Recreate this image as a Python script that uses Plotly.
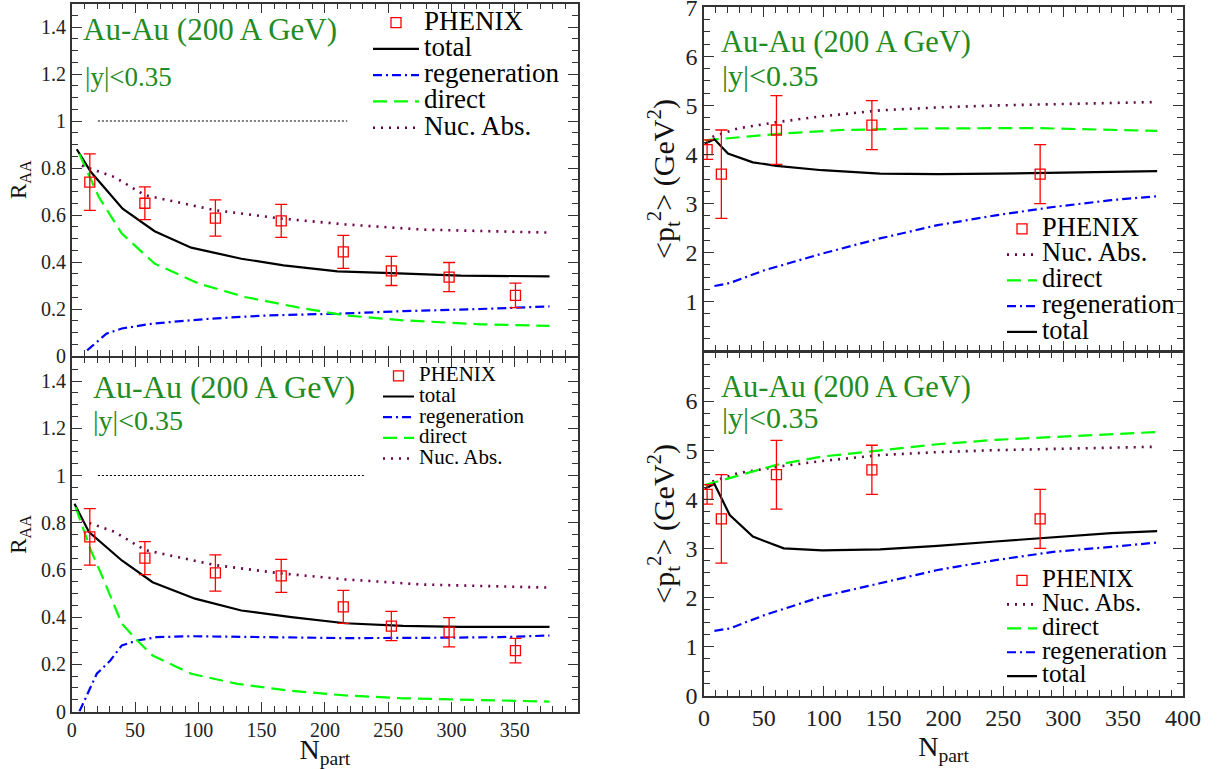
import plotly.graph_objects as go

# ---------------- data ----------------
# PHENIX R_AA vs N_part (both left panels)
phenix_raa_npart = [14.3, 57.8, 113.5, 165.5, 214.5, 252.5, 298.1, 350.5]
phenix_raa = [0.74, 0.65, 0.587, 0.575, 0.443, 0.362, 0.336, 0.258]
phenix_raa_err = [0.12, 0.07, 0.077, 0.07, 0.07, 0.062, 0.062, 0.052]

# PHENIX <pt^2> vs N_part (both right panels)
phenix_pt2_npart = [2.6, 14.5, 60.5, 140.2, 280.7]
phenix_pt2 = [4.1, 3.6, 4.5, 4.6, 3.6]
phenix_pt2_err = [0.2, 0.9, 0.7, 0.5, 0.6]

# top-left R_AA curves
tl_total_x = [4, 15.2, 40.2, 65.5, 94.4, 134, 167.4, 210, 252.6, 307.4, 377.4]
tl_total_y = [0.88, 0.783, 0.627, 0.531, 0.461, 0.414, 0.386, 0.36, 0.353, 0.342, 0.339]
tl_regen_x = [12.2, 27.4, 39.6, 63.9, 109.5, 155.2, 210, 261.7, 322.6, 377.4]
tl_regen_y = [0.024, 0.095, 0.117, 0.138, 0.159, 0.173, 0.18, 0.191, 0.2, 0.211]
tl_direct_x = [6, 21.4, 39.6, 65.5, 100.4, 136.9, 179.6, 216, 261.7, 322.6, 377.4]
tl_direct_y = [0.86, 0.677, 0.521, 0.393, 0.308, 0.251, 0.206, 0.173, 0.152, 0.135, 0.128]
raa_nuc_x = [8, 33.5, 57.9, 113.5, 165.6, 216, 276.9, 377.4]
raa_nuc_y = [0.81, 0.762, 0.684, 0.62, 0.585, 0.56, 0.538, 0.525]
tl_ref_x = [20.7, 217.6]
bl_ref_x = [20.7, 231.3]
ref_y = [1.0, 1.0]

# bottom-left R_AA curves
bl_total_x = [2.2, 13.7, 39.6, 63.9, 97.4, 134, 173.5, 216, 261.7, 307.4, 377.4]
bl_total_y = [0.88, 0.76, 0.64, 0.548, 0.478, 0.428, 0.4, 0.374, 0.363, 0.359, 0.359]
bl_regen_x = [6.1, 19.8, 30.5, 39.6, 51.8, 67, 94.4, 155.2, 216, 276.9, 337.8, 377.4]
bl_regen_y = [0.0, 0.16, 0.216, 0.28, 0.301, 0.315, 0.319, 0.315, 0.311, 0.312, 0.315, 0.322]
bl_direct_x = [3.1, 15.2, 24.4, 39.6, 51.8, 63.9, 94.4, 130.9, 170.4, 216, 261.7, 322.6, 377.4]
bl_direct_y = [0.866, 0.682, 0.569, 0.372, 0.301, 0.237, 0.16, 0.117, 0.089, 0.068, 0.056, 0.047, 0.042]

# top-right <pt^2> curves
tr_total_x = [0.6, 8.7, 20, 40.8, 60.5, 98.7, 147, 195, 243.4, 307.7, 378.4]
tr_total_y = [4.22, 4.31, 4.02, 3.84, 3.77, 3.68, 3.61, 3.6, 3.61, 3.64, 3.66]
pt2_nuc_x = [7, 28, 60.5, 98.7, 147, 195, 243.4, 307.7, 378.4]
pt2_nuc_y = [4.36, 4.53, 4.66, 4.78, 4.9, 4.96, 5.0, 5.04, 5.07]
tr_direct_x = [0.6, 28, 66.6, 114.8, 179, 275.6, 339.9, 378.4]
tr_direct_y = [4.29, 4.35, 4.43, 4.5, 4.53, 4.54, 4.51, 4.48]
tr_regen_x = [8.7, 21.5, 50.4, 98.7, 147, 195, 243.4, 291.6, 339.9, 378.4]
tr_regen_y = [1.32, 1.38, 1.64, 1.98, 2.29, 2.56, 2.76, 2.93, 3.07, 3.15]

# bottom-right <pt^2> curves
br_total_x = [0.6, 8.7, 21.5, 40.8, 66.6, 98.7, 147, 195, 243.4, 291.6, 339.9, 378.4]
br_total_y = [4.22, 4.31, 3.68, 3.24, 3.0, 2.96, 2.98, 3.05, 3.14, 3.23, 3.31, 3.35]
br_direct_x = [0.6, 28, 60.5, 98.7, 147, 195, 243.4, 291.6, 339.9, 378.4]
br_direct_y = [4.29, 4.48, 4.7, 4.87, 5.0, 5.12, 5.21, 5.27, 5.33, 5.37]
br_regen_x = [8.7, 21.5, 50.4, 98.7, 147, 195, 243.4, 291.6, 339.9, 378.4]
br_regen_y = [1.32, 1.37, 1.64, 2.02, 2.29, 2.56, 2.76, 2.93, 3.03, 3.12]

# ---------------- styling ----------------
W, H = 1221, 769
FONT = "Liberation Serif"
TEXT_GREEN = "#228B22"
RED, BLUE, LIME, MAROON, BLACK = "#FF0000", "#0000FF", "#00FF00", "#670748", "#000000"
FRAME = "#333333"

LINES = {
    "total": dict(color=BLACK, width=2.2, dash="solid"),
    "regeneration": dict(color=BLUE, width=2.2, dash="9px,4px,2px,4px"),
    "direct": dict(color=LIME, width=2.2, dash="14px,7px"),
    "Nuc. Abs.": dict(color=MAROON, width=2.6, dash="2px,6px"),
}


def lname(text, size):
    return f'<span style="font-size:{size}px">{text}</span>'


fig = go.Figure()

panels = [
    ("x", "y", "legend", 27, ["total", "regeneration", "direct", "Nuc. Abs."],
     {"total": (tl_total_x, tl_total_y), "regeneration": (tl_regen_x, tl_regen_y),
      "direct": (tl_direct_x, tl_direct_y), "Nuc. Abs.": (raa_nuc_x, raa_nuc_y)},
     (phenix_raa_npart, phenix_raa, phenix_raa_err), tl_ref_x),
    ("x2", "y2", "legend2", 21, ["total", "regeneration", "direct", "Nuc. Abs."],
     {"total": (bl_total_x, bl_total_y), "regeneration": (bl_regen_x, bl_regen_y),
      "direct": (bl_direct_x, bl_direct_y), "Nuc. Abs.": (raa_nuc_x, raa_nuc_y)},
     (phenix_raa_npart, phenix_raa, phenix_raa_err), bl_ref_x),
    ("x3", "y3", "legend3", 26.5, ["Nuc. Abs.", "direct", "regeneration", "total"],
     {"total": (tr_total_x, tr_total_y), "regeneration": (tr_regen_x, tr_regen_y),
      "direct": (tr_direct_x, tr_direct_y), "Nuc. Abs.": (pt2_nuc_x, pt2_nuc_y)},
     (phenix_pt2_npart, phenix_pt2, phenix_pt2_err), None),
    ("x4", "y4", "legend4", 25, ["Nuc. Abs.", "direct", "regeneration", "total"],
     {"total": (br_total_x, br_total_y), "regeneration": (br_regen_x, br_regen_y),
      "direct": (br_direct_x, br_direct_y), "Nuc. Abs.": (pt2_nuc_x, pt2_nuc_y)},
     (phenix_pt2_npart, phenix_pt2, phenix_pt2_err), None),
]

for xa, ya, lg, fs, order, curves, ph, refx in panels:
    if refx is not None:
        fig.add_trace(go.Scatter(x=refx, y=ref_y, mode="lines", xaxis=xa, yaxis=ya,
                                 line=dict(color=BLACK, width=1.2, dash="2px,2px"),
                                 showlegend=False, hoverinfo="skip"))
    for rank, key in enumerate(order, start=2):
        cx, cy = curves[key]
        fig.add_trace(go.Scatter(x=cx, y=cy, mode="lines", xaxis=xa, yaxis=ya,
                                 line=LINES[key], name=lname(key, fs), legend=lg,
                                 legendrank=rank))
    fig.add_trace(go.Scatter(
        x=ph[0], y=ph[1], mode="markers", xaxis=xa, yaxis=ya, legend=lg, legendrank=1,
        name=lname("PHENIX", fs),
        marker=dict(symbol="square-open", size=10, color=RED, line=dict(width=1.3, color=RED)),
        error_y=dict(type="data", array=ph[2], visible=True, color=RED, thickness=1.3, width=6)))


def axis(domain, rng, dtick, minor_dtick, showlabels, fsize, anchor, title=None,
         tfont=None, standoff=None):
    d = dict(domain=domain, range=rng, dtick=dtick, tick0=0, tickmode="linear",
             showline=True, linecolor=FRAME, linewidth=1.6, mirror="allticks",
             ticks="inside", ticklen=10, tickwidth=1.3, tickcolor=FRAME,
             showgrid=False, zeroline=False, showticklabels=showlabels,
             ticklabeloverflow="allow",
             tickfont=dict(family=FONT, size=fsize, color="#222222"),
             minor=dict(ticks="inside", ticklen=6, tickwidth=1.2, tickcolor=FRAME,
                        dtick=minor_dtick, tick0=0, showgrid=False),
             anchor=anchor, fixedrange=True, automargin=False)
    if title is not None:
        d["title"] = dict(text=title, font=dict(family=FONT, size=tfont, color="#111111"),
                          standoff=standoff)
    return d


L = [71.7 / W, 578 / W]
R = [704 / W, 1183 / W]
TL_Y = [1 - 356 / H, 1 - 3.5 / H]
BL_Y = [1 - 711.5 / H, 1 - 357.5 / H]
TR_Y = [1 - 350.7 / H, 1 - 7.3 / H]
BR_Y = [1 - 695.7 / H, 1 - 352 / H]

pt2_title = "&lt;p<sub>t</sub><sup>2</sup>&gt; (GeV<sup>2</sup>)"

fig.update_layout(
    width=W, height=H, margin=dict(l=0, r=0, t=0, b=0, autoexpand=False),
    paper_bgcolor="white", plot_bgcolor="white",
    font=dict(family=FONT, color="black"),
    xaxis=axis(L, [0, 399.9], 50, 10, False, 20, "y"),
    yaxis=axis(TL_Y, [0.0001, 1.5], 0.2, 0.05, True, 20, "x",
               "R<sub>AA</sub>", 23, 8),
    xaxis2=axis(L, [0, 399.9], 50, 10, True, 20, "y2", "N<sub>part</sub>", 28, 1),
    yaxis2=axis(BL_Y, [0, 1.5], 0.2, 0.05, True, 20, "x2",
                "R<sub>AA</sub>", 23, 8),
    xaxis3=axis(R, [0, 400], 50, 10, False, 24, "y3"),
    yaxis3=axis(TR_Y, [0.001, 7.001], 1, 0.25, True, 24, "x3", pt2_title, 30, 1),
    xaxis4=axis(R, [0, 400], 50, 10, True, 24, "y4", "N<sub>part</sub>", 28, 1),
    yaxis4=axis(BR_Y, [0, 6.999], 1, 0.25, True, 24, "x4", pt2_title, 30, 1),
)


def legend_box(left_px, top_px, fs, iw):
    return dict(x=left_px / W, y=1 - top_px / H, xanchor="left", yanchor="top",
                font=dict(family=FONT, size=fs, color="black"),
                bgcolor="rgba(0,0,0,0)", borderwidth=0, itemwidth=iw,
                tracegroupgap=0, traceorder="normal")


fig.update_layout(
    legend=legend_box(368, 4.5, 17.9, 46),
    legend2=legend_box(378, 360.5, 13.6, 31),
    legend3=legend_box(1002, 211, 17.5, 30),
    legend4=legend_box(1002, 563.5, 16.1, 30),
)

# panel labels
labels = [
    ("Au-Au (200 A GeV)", 81.4, 29, 31),
    ("|y|&lt;0.35", 83.3, 77, 27),
    ("Au-Au (200 A GeV)", 91, 387, 32),
    ("|y|&lt;0.35", 91, 420, 28),
    ("Au-Au (200 A GeV)", 719.4, 42, 30.5),
    ("|y|&lt;0.35", 720, 75, 30),
    ("Au-Au (200 A GeV)", 719.4, 387, 30.5),
    ("|y|&lt;0.35", 720, 417, 30),
]
for text, xp, yp, size in labels:
    fig.add_annotation(text=text, x=xp / W, y=1 - yp / H, xref="paper", yref="paper",
                       xanchor="left", yanchor="middle", showarrow=False,
                       font=dict(family=FONT, size=size, color=TEXT_GREEN))

# the page's default 8px body margin would shift the figure; remove it
fig.write_html("out.html",
               config={"displayModeBar": False},
               post_script="document.body.style.margin='0';document.body.style.overflow='hidden';")
